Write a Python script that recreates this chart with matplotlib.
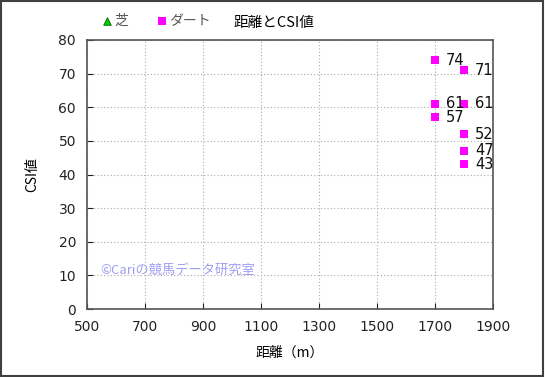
import matplotlib
matplotlib.use("Agg")
import matplotlib.pyplot as plt
from matplotlib.patches import Rectangle

plt.rcParams['font.family'] = ['Noto Sans CJK JP', 'DejaVu Sans']

turf_dist = []
turf_csi = []
dirt_dist = [1700, 1700, 1700, 1800, 1800, 1800, 1800, 1800]
dirt_csi = [74, 61, 57, 71, 61, 52, 47, 43]
x_ticks = [500, 700, 900, 1100, 1300, 1500, 1700, 1900]
y_ticks = [0, 10, 20, 30, 40, 50, 60, 70, 80]

fig = plt.figure(figsize=(5.45, 3.77), dpi=100)
fig.patch.set_facecolor('white')
fig.add_artist(Rectangle((0.002, 0.003), 0.995, 0.994, transform=fig.transFigure,
                         fill=False, edgecolor='#404040', linewidth=1.5))
ax = fig.add_axes([0.160, 0.180, 0.745, 0.714])

ax.scatter(turf_dist, turf_csi, marker='^', color='#00cc00', edgecolor='#008000', s=30, zorder=3)
ax.scatter(dirt_dist, dirt_csi, marker='s', color='#ff00ff', s=32, zorder=3, linewidths=0)
for x, y in zip(dirt_dist, dirt_csi):
    ax.text(x + 38, y, f'{y}', fontsize=10.5, va='center', ha='left', color='#111111', family='DejaVu Sans')

ax.set_xlim(500, 1900)
ax.set_ylim(0, 80)
ax.set_xticks(x_ticks)
ax.set_yticks(y_ticks)
ax.tick_params(direction='in', length=4, labelsize=10, pad=8, colors='#222222')
for lab in ax.get_xticklabels() + ax.get_yticklabels():
    lab.set_family('DejaVu Sans')
ax.grid(True, linestyle=(0, (1, 2)), color='#aaaaaa', linewidth=0.8)
for s in ax.spines.values():
    s.set_color('#555555')
    s.set_linewidth(1.2)

ax.set_xlabel('距離（m）', fontsize=10, labelpad=8)
ax.set_ylabel('CSI値', fontsize=10, labelpad=14)

ax.text(545, 11.5, '©Cariの競馬データ研究室', fontsize=9.5, color='#9f9ff0', va='center', ha='left')

fig.text(0.503, 0.94, '距離とCSI値', fontsize=10.5, ha='center', va='center')
fig.scatter = None
ax.scatter([0.197], [0.945], marker='^', s=30, color='#00cc00', edgecolor='#006600', linewidths=0.6,
           transform=fig.transFigure, clip_on=False, zorder=5)
fig.text(0.210, 0.945, '芝', color='#555555', fontsize=10, ha='left', va='center')
ax.scatter([0.298], [0.945], marker='s', s=34, color='#ff00ff', linewidths=0,
           transform=fig.transFigure, clip_on=False, zorder=5)
fig.text(0.310, 0.945, 'ダート', color='#555555', fontsize=10, ha='left', va='center')

fig.savefig('out.png', dpi=100)
